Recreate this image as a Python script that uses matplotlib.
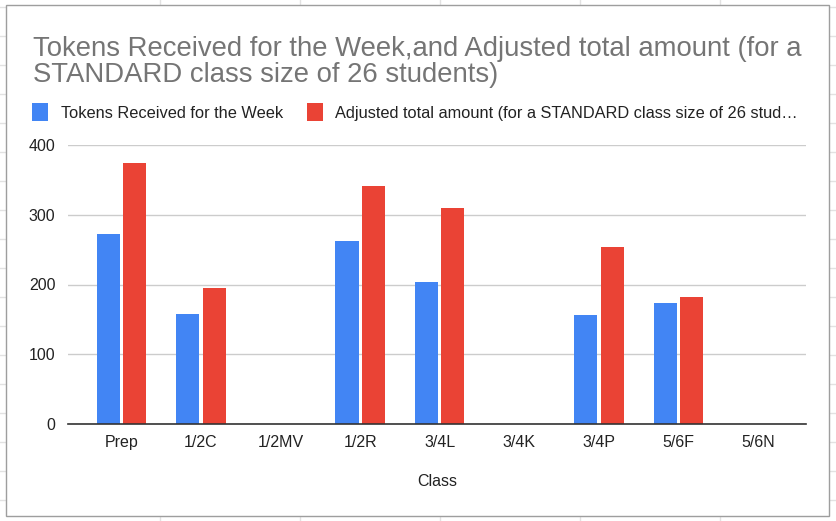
import numpy as np
import matplotlib
matplotlib.use("Agg")
import matplotlib.pyplot as plt
from matplotlib.patches import Rectangle
from matplotlib.lines import Line2D

plt.rcParams['font.family'] = ['Liberation Sans', 'DejaVu Sans']

classes = ["Prep", "1/2C", "1/2MV", "1/2R", "3/4L", "3/4K", "3/4P", "5/6F", "5/6N"]
tokens = [272, 158, 0, 262, 204, 0, 156, 173, 0]
adjusted = [374, 195, 0, 341, 310, 0, 254, 182, 0]

blue = "#4285F4"
red = "#EA4335"

W, H = 836, 521
fig = plt.figure(figsize=(W / 100, H / 100), dpi=100)
fig.patch.set_facecolor("white")

# spreadsheet cells behind the chart
for x in [160, 300, 440, 580, 720]:
    fig.add_artist(Line2D([x / W, x / W], [0, 1], color="#e2e2e2", lw=1, zorder=0))
for y in np.arange(7, 521, 29):
    fig.add_artist(Line2D([0, 1], [1 - y / H, 1 - y / H], color="#e2e2e2", lw=1, zorder=0))
fig.add_artist(Rectangle((6 / W, 5 / H), 823 / W, 511 / H, facecolor="white",
                         edgecolor="#9e9e9e", lw=1, zorder=1))

ax = fig.add_axes([68 / W, 1 - 424 / H, 738 / W, 279 / H], zorder=2)
ax.set_facecolor("none")

x = np.arange(len(classes))
bw = 0.29
ax.bar(x - bw / 2 - 0.02, tokens, bw, color=blue, label="Tokens Received for the Week", zorder=3)
ax.bar(x + bw / 2 + 0.02, adjusted, bw, color=red,
       label="Adjusted total amount (for a STANDARD class size of 26 stud\u2026", zorder=3)

ax.set_xlim(-0.67, 8.6)
ax.set_ylim(0, 400)
ax.set_yticks([0, 100, 200, 300, 400])
ax.set_xticks(x)
ax.set_xticklabels(classes)
ax.yaxis.grid(True, color="#cccccc", lw=1)
ax.set_axisbelow(True)
for s in ["top", "right", "left"]:
    ax.spines[s].set_visible(False)
ax.spines["bottom"].set_color("#333333")
ax.spines["bottom"].set_linewidth(1.2)
ax.spines["bottom"].set_zorder(4)
ax.tick_params(length=0, labelsize=11.5, labelcolor="#222222")
ax.tick_params(axis="y", pad=9)
ax.tick_params(axis="x", pad=8)
ax.set_xlabel("Class", fontsize=11.5, color="#222222", labelpad=17)

fig.text(33 / W, 1 - 56 / H, "Tokens Received for the Week,and Adjusted total amount (for a",
         fontsize=19.8, color="#757575", ha="left", va="baseline")
fig.text(33 / W, 1 - 82 / H, "STANDARD class size of 26 students)",
         fontsize=19.8, color="#757575", ha="left", va="baseline")

ax.legend(loc="center left", bbox_to_anchor=(32 / W, 1 - 112 / H), bbox_transform=fig.transFigure,
          ncol=2, frameon=False, fontsize=11.8, handlelength=1.0, handleheight=1.25,
          handletextpad=0.75, columnspacing=1.45, borderpad=0, borderaxespad=0,
          labelcolor="#222222")

fig.savefig("out.png", dpi=100, facecolor="white")
